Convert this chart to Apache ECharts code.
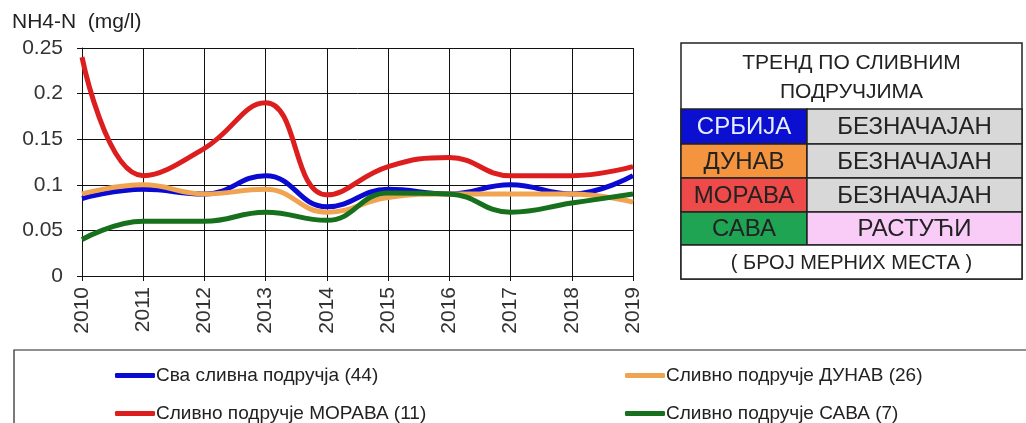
<!DOCTYPE html>
<html><head><meta charset="utf-8">
<script src="https://cdn.jsdelivr.net/npm/echarts@6/dist/echarts.min.js"></script>
<style>html,body{margin:0;padding:0;background:#fff}#c{width:1026px;height:423px}</style>
</head><body><div id="c"></div>
<script>
const years = ['2010','2011','2012','2013','2014','2015','2016','2017','2018','2019'];
const sva    = [0.085,0.095,0.09,0.11,0.076,0.095,0.09,0.10,0.09,0.11];
const dunav  = [0.09,0.10,0.09,0.095,0.07,0.086,0.09,0.09,0.09,0.081];
const morava = [0.24,0.11,0.14,0.19,0.089,0.12,0.13,0.11,0.11,0.12];
const sava   = [0.04,0.06,0.06,0.07,0.061,0.091,0.09,0.07,0.08,0.09];
const seriesNames = ['Сва сливна подручја (44)','Сливно подручје ДУНАВ (26)','Сливно подручје МОРАВА (11)','Сливно подручје САВА (7)'];
const lineColors = ['#0a0ad2','#f0a452','#dc1e1e','#16701c'];
const yTitle = 'NH4-N  (mg/l)';
const tableTitle = ['ТРЕНД ПО СЛИВНИМ','ПОДРУЧЈИМА'];
const regions = ['СРБИЈА','ДУНАВ','МОРАВА','САВА'];
const trends = ['БЕЗНАЧАЈАН','БЕЗНАЧАЈАН','БЕЗНАЧАЈАН','РАСТУЋИ'];
const tableFooter = '( БРОЈ МЕРНИХ МЕСТА )';

const regionFill = ['#0b10d0','#f5943f','#ef4a4a','#1fa454'];
const regionText = ['#e8eeff','#222','#222','#222'];
const trendFill = ['#d8d8d8','#d8d8d8','#d8d8d8','#f9ccf7'];
const font = 'Liberation Sans, Arial, sans-serif';

const chart = echarts.init(document.getElementById('c'));
const data = [sva, dunav, morava, sava];

const T = {x0:681, x1:1022, xm:807, y:[43,109,144,178,212,245,279]};
const g = [];
g.push({type:'rect', shape:{x:T.x0,y:T.y[0],width:T.x1-T.x0,height:T.y[6]-T.y[0]}, style:{fill:'#fff',stroke:'#222',lineWidth:1.5}});
g.push({type:'text', x:(T.x0+T.x1)/2, y:63, style:{text:tableTitle[0], font:'21px '+font, fill:'#222', align:'center', verticalAlign:'middle'}});
g.push({type:'text', x:(T.x0+T.x1)/2, y:92, style:{text:tableTitle[1], font:'21px '+font, fill:'#222', align:'center', verticalAlign:'middle'}});
for (let i=0;i<4;i++){
  const y0=T.y[i+1], y1=T.y[i+2];
  g.push({type:'rect', shape:{x:T.x0,y:y0,width:T.xm-T.x0,height:y1-y0}, style:{fill:regionFill[i],stroke:'#222',lineWidth:1.5}});
  g.push({type:'rect', shape:{x:T.xm,y:y0,width:T.x1-T.xm,height:y1-y0}, style:{fill:trendFill[i],stroke:'#222',lineWidth:1.5}});
  g.push({type:'text', x:(T.x0+T.xm)/2, y:(y0+y1)/2+1, style:{text:regions[i], font:'24px '+font, fill:regionText[i], align:'center', verticalAlign:'middle'}});
  g.push({type:'text', x:(T.xm+T.x1)/2, y:(y0+y1)/2+1, style:{text:trends[i], font:'24px '+font, fill:'#222', align:'center', verticalAlign:'middle'}});
}
g.push({type:'rect', shape:{x:T.x0,y:T.y[5],width:T.x1-T.x0,height:T.y[6]-T.y[5]}, style:{fill:'#fff',stroke:'#222',lineWidth:1.5}});
g.push({type:'text', x:(T.x0+T.x1)/2, y:263, style:{text:tableFooter, font:'20px '+font, fill:'#222', align:'center', verticalAlign:'middle'}});
g.push({type:'rect', shape:{x:14,y:350,width:1030,height:90}, style:{fill:'none',stroke:'#222',lineWidth:1.2}});

const legendPos = [[110,361],[620,361],[110,399],[620,399]];

chart.setOption({
  animation:false,
  title:{text:yTitle, left:12, top:12, padding:0, textStyle:{fontFamily:font, fontSize:21, fontWeight:'normal', color:'#222'}},
  grid:{left:82, right:393, top:48, bottom:147},
  xAxis:{type:'category', data:years, boundaryGap:false,
    axisLine:{lineStyle:{color:'#111'}}, axisTick:{show:true, length:5, lineStyle:{color:'#111'}},
    splitLine:{show:true, lineStyle:{color:'#111', width:1}},
    axisLabel:{rotate:90, fontFamily:font, fontSize:21, color:'#333', margin:11}},
  yAxis:{type:'value', min:0, max:0.25, interval:0.05,
    axisLine:{show:true, lineStyle:{color:'#111'}}, axisTick:{show:true, length:5, lineStyle:{color:'#111'}},
    splitLine:{lineStyle:{color:'#111', width:1}},
    axisLabel:{fontFamily:font, fontSize:21, color:'#333', margin:19}},
  legend: seriesNames.map((n,i)=>({data:[n], left:legendPos[i][0], top:legendPos[i][1], icon:'roundRect', itemWidth:40, itemHeight:5, itemGap:0,
    textStyle:{fontFamily:font, fontSize:19, color:'#222', padding:[0,0,0,-4]}})),
  graphic:g,
  series: seriesNames.map((n,i)=>({name:n, type:'line', data:data[i], smooth:0.45, showSymbol:false, symbol:'none',
    lineStyle:{width:5, color:lineColors[i]}, itemStyle:{color:lineColors[i]}, z:[2,3,4,5][i]}))
});
</script></body></html>
